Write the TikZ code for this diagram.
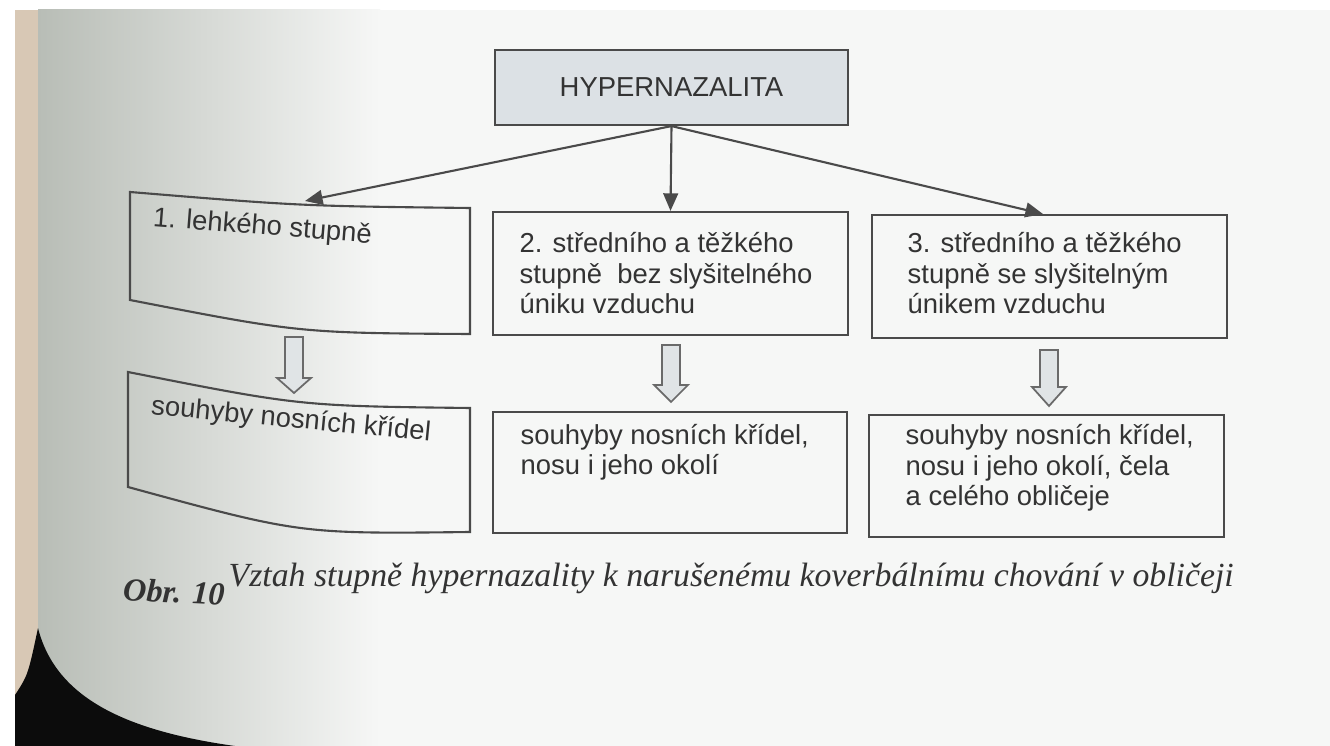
\documentclass[tikz,border=0pt]{standalone}
\usepackage{fontspec}
\setmainfont{Liberation Serif}
\newfontfamily\arialf{Liberation Sans}
\usetikzlibrary{arrows.meta}
\definecolor{linec}{HTML}{4A4A4A}
\definecolor{textc}{HTML}{333333}
\definecolor{topfill}{HTML}{DCE1E5}
\definecolor{hollowfill}{HTML}{E0E4E6}
\definecolor{hollowline}{HTML}{6A6A6A}
\definecolor{pagec}{HTML}{F6F7F6}
\definecolor{pageshade}{HTML}{B8BDB6}
\definecolor{spine}{HTML}{D8C8B5}
\definecolor{darkc}{HTML}{0C0C0C}
\newcommand\boxfont{\arialf\fontsize{7.8}{8.8}\selectfont}
\newcommand\capfont{\fontsize{9.6}{11}\selectfont\itshape}
\newcommand\hollowarrow[4]{% centre x, top y, head start y, tip y
  \filldraw[hollow] (#1-9,#2) -- (#1+9,#2) -- (#1+9,#3) -- (#1+17,#3) -- (#1,#4)
    -- (#1-17,#3) -- (#1-9,#3) -- cycle;}
\begin{document}
\begin{tikzpicture}[x=0.01cm,y=-0.01cm,
  boxline/.style={draw=linec, line width=0.6pt},
  topbox/.style={draw=linec, line width=0.6pt, fill=topfill, minimum width=3.53cm,
    minimum height=0.75cm, inner sep=0pt, font=\boxfont, text=textc},
  rectbox/.style={draw=linec, line width=0.6pt, inner sep=0pt},
  lbl/.style={inner sep=0pt, anchor=base west, align=left, font=\boxfont, text=textc},
  conn/.style={draw=linec, line width=0.6pt, -{Triangle[length=5pt,width=4.2pt]}},
  hollow/.style={draw=hollowline, fill=hollowfill, line width=0.5pt},
  captxt/.style={inner sep=0pt, anchor=base west, font=\capfont, text=textc}]
\useasboundingbox (0,0) rectangle (1330,746);
% page background
\fill[white] (0,0) rectangle (1330,746);
\fill[pagec] (38,10) rectangle (1330,746);
\shade[left color=pageshade, right color=pagec] (38,10) rectangle (380,746);
\fill[spine] (15,10) rectangle (38,746);
\fill[darkc] (15,695) .. controls (28,675) .. (38,628) .. controls (55,695) and (120,730) .. (235,746) -- (15,746) -- cycle;

% top node
\node[topbox] (top) at (671.5,87.5) {HYPERNAZALITA};

% box 1 (curved)
\draw[boxline] (130,192) .. controls (300,206) .. (470,208) -- (470,334)
  .. controls (300,333) .. (130,300) -- cycle;
\coordinate (b1n) at (305,201);
\node[lbl, rotate=-4.5] (t1) at (152,226) {1. lehkého stupně};

% box 4 (curved)
\draw[boxline] (128,372) .. controls (300,406) .. (470,408) -- (470,532)
  .. controls (300,534) .. (128,487) -- cycle;
\node[lbl, rotate=-5.5] (t4) at (150,414) {souhyby nosních křídel};

% boxes 2,3,5,6
\node[rectbox, minimum width=3.55cm, minimum height=1.23cm] (b2) at (670.5,273.5) {};
\node[rectbox, minimum width=3.55cm, minimum height=1.23cm] (b3) at (1049.5,276.5) {};
\node[rectbox, minimum width=3.54cm, minimum height=1.21cm] (b5) at (670,472.5) {};
\node[rectbox, minimum width=3.55cm, minimum height=1.22cm] (b6) at (1046.5,476) {};

% multi-line labels: anchor is the baseline of the last line
\node[lbl] (t2) at (519,314) {2. středního a těžkého\\stupně\ \ bez slyšitelného\\úniku vzduchu};
\node[lbl] (t3) at (907,314) {3. středního a těžkého\\stupně se slyšitelným\\únikem vzduchu};
\node[lbl] (t5) at (520,475) {souhyby nosních křídel,\\nosu i jeho okolí};
\node[lbl] (t6) at (905,506) {souhyby nosních křídel,\\nosu i jeho okolí, čela\\a celého obličeje};

% connectors
\coordinate (b3n) at (1043,214);
\draw[conn] (top.south) -- (b1n);
\draw[conn] (top.south) -- (b2.north);
\draw[conn] (top.south) -- (b3n);

% hollow arrows
\hollowarrow{294}{337}{378}{393}
\hollowarrow{671}{345}{385}{402}
\hollowarrow{1049}{350}{387}{406}

% caption
\node[captxt, rotate=-3, font=\fontsize{9.2}{11}\selectfont\itshape] (capa) at (122,600) {\bfseries Obr. 10};
\node[captxt] (capb) at (228,587) {Vztah stupně hypernazality k narušenému koverbálnímu chování v obličeji};
\end{tikzpicture}
\end{document}
